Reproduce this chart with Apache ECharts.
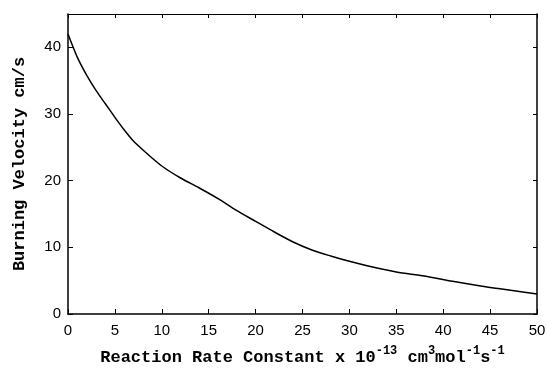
<!DOCTYPE html>
<html>
<head>
<meta charset="utf-8">
<script src="https://cdn.jsdelivr.net/npm/echarts@6/dist/echarts.min.js"></script>
<style>
  html, body { margin: 0; padding: 0; background: #fff; }
  #main { width: 547px; height: 370px; }
</style>
</head>
<body>
<div id="main"></div>
<script>
// values
var rateConstant = [0, 1, 2, 3, 4, 5, 6, 7, 8, 10, 12, 14, 16, 18, 20, 22, 24, 26, 28, 30, 32, 35, 38, 41, 44, 47, 50];
var burningVelocity = [42, 38.5, 35.8, 33.5, 31.5, 29.5, 27.6, 25.9, 24.6, 22.2, 20.4, 18.9, 17.3, 15.5, 13.9, 12.3, 10.8, 9.6, 8.7, 7.9, 7.2, 6.3, 5.7, 4.9, 4.2, 3.6, 3.0];

var chartDom = document.getElementById("main");
var myChart = echarts.init(chartDom, null, { renderer: "canvas" });

var points = rateConstant.map(function (x, i) { return [x, burningVelocity[i]]; });

var axisLine = { show: true, onZero: false, lineStyle: { color: "#000", width: 1.5 } };
var thinLine = { show: true, onZero: false, lineStyle: { color: "#000", width: 1 } };
var tickFont = { color: "#000", fontSize: 15, fontFamily: "Liberation Sans" };
var titleFont = "Liberation Mono";

var option = {
  animation: false,
  backgroundColor: "#fff",
  grid: { left: 68, right: 10, top: 14, bottom: 56, outerBoundsMode: "none", containLabel: false },
  xAxis: [
    {
      type: "value",
      min: 0,
      max: 50,
      interval: 5,
      position: "bottom",
      axisLine: axisLine,
      axisTick: { inside: true, length: 5, lineStyle: { color: "#000", width: 1 } },
      axisLabel: Object.assign({ margin: 9 }, tickFont),
      splitLine: { show: false },
      name: "Reaction Rate Constant x 10{sup|-13} cm{sup|3}mol{sup|-1}s{sup|-1}",
      nameLocation: "middle",
      nameGap: 31,
      nameTextStyle: {
        color: "#000",
        fontSize: 17,
        fontFamily: titleFont,
        fontWeight: "bold",
        rich: {
          sup: { fontSize: 12, fontFamily: titleFont, fontWeight: "bold", color: "#000", verticalAlign: "top", padding: [0, 0, 14, 0] }
        }
      }
    },
    {
      type: "value",
      min: 0,
      max: 50,
      interval: 5,
      position: "top",
      axisLine: thinLine,
      axisTick: { inside: true, length: 4, lineStyle: { color: "#000" } },
      axisLabel: { show: false },
      splitLine: { show: false }
    }
  ],
  yAxis: [
    {
      type: "value",
      min: 0,
      max: 45,
      interval: 10,
      position: "left",
      axisLine: axisLine,
      axisTick: { inside: true, length: 5, lineStyle: { color: "#000", width: 1 } },
      axisLabel: Object.assign({ margin: 7, showMaxLabel: false }, tickFont),
      splitLine: { show: false },
      name: "Burning Velocity cm/s",
      nameLocation: "middle",
      nameGap: 40,
      nameTextStyle: { color: "#000", fontSize: 17, fontFamily: titleFont, fontWeight: "bold" }
    },
    {
      type: "value",
      min: 0,
      max: 45,
      interval: 10,
      position: "right",
      axisLine: axisLine,
      axisTick: { inside: true, length: 4, lineStyle: { color: "#000" } },
      axisLabel: { show: false },
      splitLine: { show: false }
    }
  ],
  series: [
    {
      type: "line",
      data: points,
      smooth: 0.3,
      showSymbol: false,
      lineStyle: { color: "#000", width: 1.5 }
    },
    {
      // same curve on the top/right axes so they get drawn (kept invisible)
      type: "line",
      xAxisIndex: 1,
      yAxisIndex: 1,
      data: points,
      showSymbol: false,
      silent: true,
      lineStyle: { opacity: 0 }
    }
  ]
};

option && myChart.setOption(option);
</script>
</body>
</html>
